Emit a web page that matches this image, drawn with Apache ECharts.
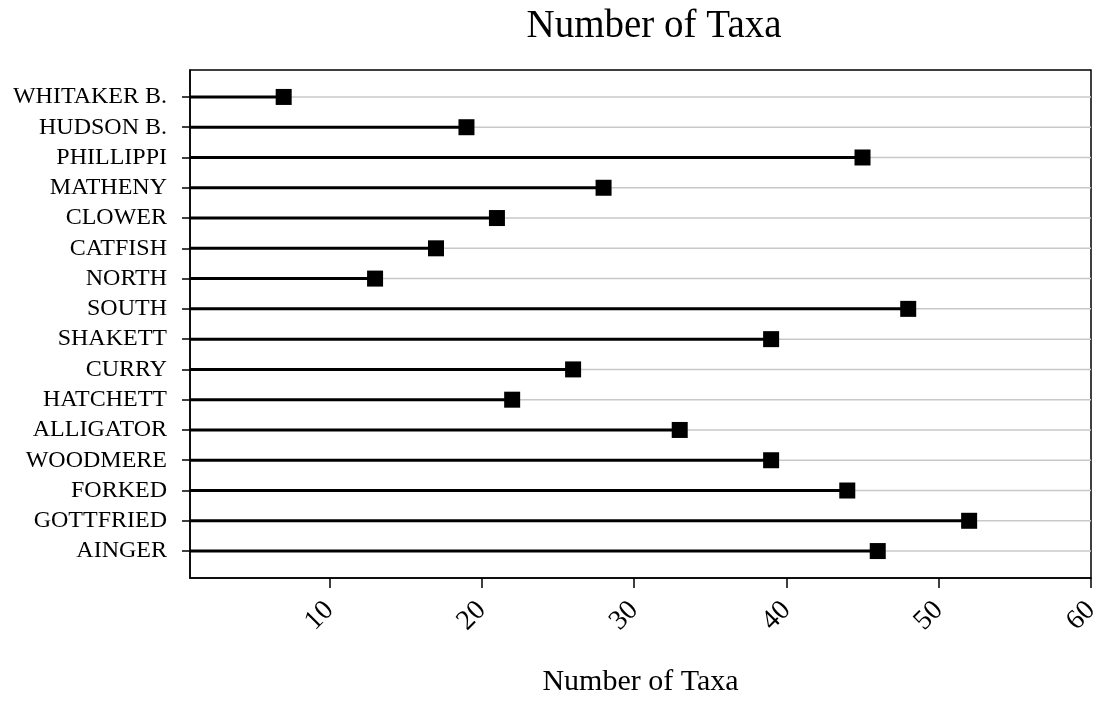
<!DOCTYPE html>
<html><head><meta charset="utf-8">
<script src="https://cdn.jsdelivr.net/npm/echarts@6/dist/echarts.min.js"></script>
<style>html,body{margin:0;padding:0;background:#fff}#c{width:1104px;height:702px}</style>
</head><body><div id="c"></div>
<script>
const categories = ["WHITAKER B.","HUDSON B.","PHILLIPPI","MATHENY","CLOWER","CATFISH","NORTH","SOUTH","SHAKETT","CURRY","HATCHETT","ALLIGATOR","WOODMERE","FORKED","GOTTFRIED","AINGER"];
const taxa = [7,19,45,28,21,17,13,48,39,26,22,33,39,44,52,46];
const xTicks = [10,20,30,40,50,60];
const FONT = "'Liberation Serif','Times New Roman',serif";
const rows = categories.map((c,i)=>i);
const chart = echarts.init(document.getElementById('c'));
chart.setOption({
  animation:false,
  backgroundColor:'#fff',
  title:{text:'Number of Taxa',left:649,textAlign:'center',top:2,textStyle:{fontFamily:FONT,fontWeight:'normal',fontSize:39,color:'#000'}},
  grid:{left:190,right:13,top:70,bottom:123,show:true,borderColor:'#000',borderWidth:1.5,backgroundColor:'transparent'},
  xAxis:{type:'value',min:0.85,max:60,position:'bottom',
    name:'Number of Taxa',nameLocation:'middle',nameGap:89,nameTextStyle:{fontFamily:FONT,fontSize:30,color:'#000'},
    axisLine:{show:true,onZero:false,lineStyle:{color:'#000',width:1.5}},
    axisTick:{show:true,length:10,customValues:xTicks,lineStyle:{color:'#000',width:1.5}},
    axisLabel:{customValues:xTicks,rotate:45,margin:28,fontFamily:FONT,fontSize:28,color:'#000'},
    splitLine:{show:false}},
  yAxis:{type:'value',inverse:true,min:-0.89,max:15.89,
    axisLine:{show:true,onZero:false,lineStyle:{color:'#000',width:1.5}},
    axisTick:{show:true,length:8,customValues:rows,lineStyle:{color:'#000',width:1.5}},
    axisLabel:{customValues:rows,margin:23,fontFamily:FONT,fontSize:24,color:'#000',formatter:v=>categories[Math.round(v)]},
    splitLine:{show:false}},
  series:[
    {type:'custom',silent:true,z:1,data:rows.map(i=>[i]),
     renderItem:(p,api)=>{const y=api.coord([1,api.value(0)])[1];const cs=p.coordSys;
       return {type:'line',shape:{x1:cs.x,y1:y,x2:cs.x+cs.width,y2:y},style:{stroke:'#c8c8c8',lineWidth:1.5}};}},
    {type:'custom',silent:true,z:2,data:taxa.map((v,i)=>[v,i]),
     renderItem:(p,api)=>{const pt=api.coord([api.value(0),api.value(1)]);const cs=p.coordSys;
       return {type:'line',shape:{x1:cs.x,y1:pt[1],x2:pt[0],y2:pt[1]},style:{stroke:'#000',lineWidth:3}};}},
    {type:'scatter',z:3,symbol:'rect',symbolSize:16,itemStyle:{color:'#000',opacity:1},data:taxa.map((v,i)=>[v,i])}
  ]
});
</script></body></html>
